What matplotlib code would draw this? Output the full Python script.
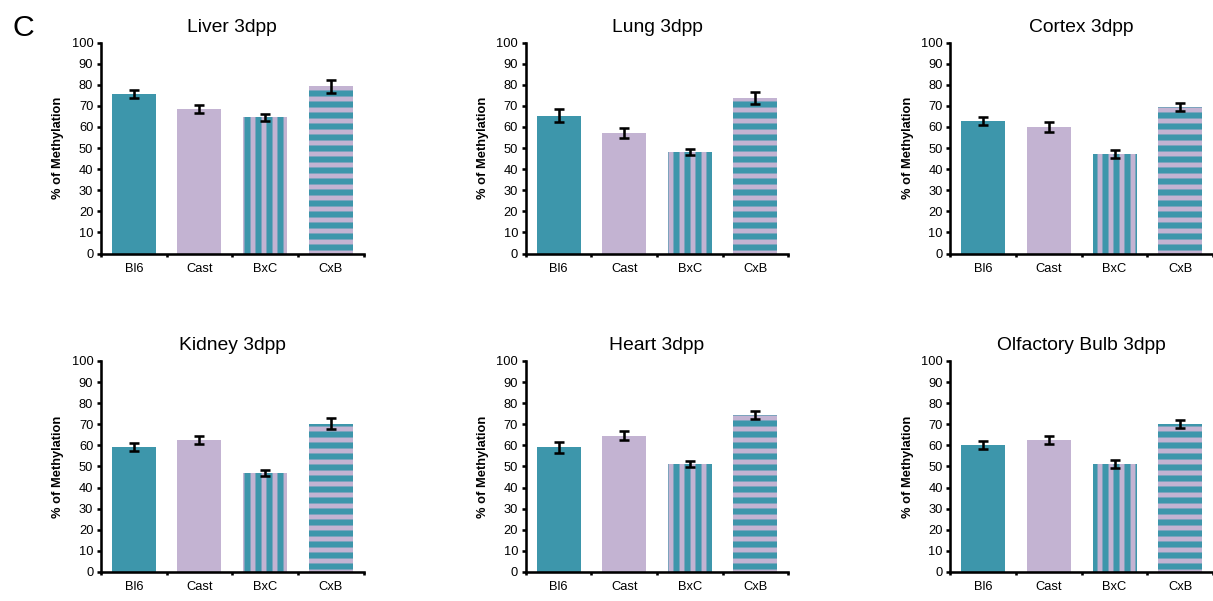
import matplotlib
matplotlib.use('Agg')
import matplotlib.pyplot as plt

# Mean % methylation and error per strain
strains = ['Bl6', 'Cast', 'BxC', 'CxB']
titles = ['Liver 3dpp', 'Lung 3dpp', 'Cortex 3dpp',
          'Kidney 3dpp', 'Heart 3dpp', 'Olfactory Bulb 3dpp']

liver = [75.5, 68.5, 64.5, 79.2]
liver_err = [1.8, 2.0, 1.6, 3.0]
lung = [65.3, 57.2, 48.1, 73.8]
lung_err = [3.0, 2.4, 1.4, 2.7]
cortex = [62.8, 60.0, 47.2, 69.5]
cortex_err = [2.1, 2.3, 1.9, 1.8]
kidney = [59.3, 62.6, 47.0, 70.3]
kidney_err = [1.9, 1.8, 1.5, 2.6]
heart = [59.2, 64.6, 51.2, 74.4]
heart_err = [2.6, 2.1, 1.6, 1.7]
olfactory = [60.2, 62.6, 51.2, 70.3]
olfactory_err = [1.9, 1.8, 1.9, 1.9]

values = [liver, lung, cortex, kidney, heart, olfactory]
errors = [liver_err, lung_err, cortex_err, kidney_err, heart_err, olfactory_err]

TEAL = '#3d96ab'
LAVENDER = '#c3b3d2'
face_colors = [TEAL, LAVENDER, LAVENDER, LAVENDER]
hatches = ['', '', '||', '--']

plt.rcParams['font.family'] = ['Liberation Sans', 'DejaVu Sans']
plt.rcParams['hatch.linewidth'] = 3.3
plt.rcParams['hatch.color'] = TEAL

DPI = 132
fig, axes = plt.subplots(2, 3, figsize=(1213 / DPI, 601 / DPI), dpi=DPI)
plt.subplots_adjust(left=0.0833, right=1.0, bottom=0.0483, top=0.9292,
                    wspace=0.618, hspace=0.509)

x = list(range(len(strains)))

for ax, title, vals, errs in zip(axes.flat, titles, values, errors):
    for i in x:
        ax.bar(i, vals[i], width=0.67, color=face_colors[i], hatch=hatches[i],
               edgecolor=TEAL, linewidth=0, zorder=2)
    ax.errorbar(x, vals, yerr=errs, fmt='none', ecolor='black',
                elinewidth=1.4, capsize=2.5, capthick=1.4, zorder=3)

    ax.set_xlim(-0.5, 3.5)
    ax.set_ylim(0, 100)
    ax.set_yticks(range(0, 101, 10))
    ax.set_xticks(x)
    ax.set_xticklabels(strains)
    ax.set_xticks([-0.5, 0.5, 1.5, 2.5, 3.5], minor=True)

    ax.spines['top'].set_visible(False)
    ax.spines['right'].set_visible(False)
    ax.spines['left'].set_linewidth(1.4)
    ax.spines['bottom'].set_linewidth(1.4)

    ax.tick_params(axis='y', direction='out', length=2.2, width=1.4,
                   labelsize=7, pad=2)
    ax.tick_params(axis='x', which='major', length=0, labelsize=7, pad=5)
    ax.tick_params(axis='x', which='minor', direction='out', length=1.8, width=1.4)

    ax.set_ylabel('% of Methylation', fontsize=7, fontweight='bold', labelpad=4)
    ax.set_title(title, fontsize=10.5, pad=6)

fig.text(0.01, 0.94, 'C', fontsize=16.5)

fig.savefig('out.png', dpi=DPI)
